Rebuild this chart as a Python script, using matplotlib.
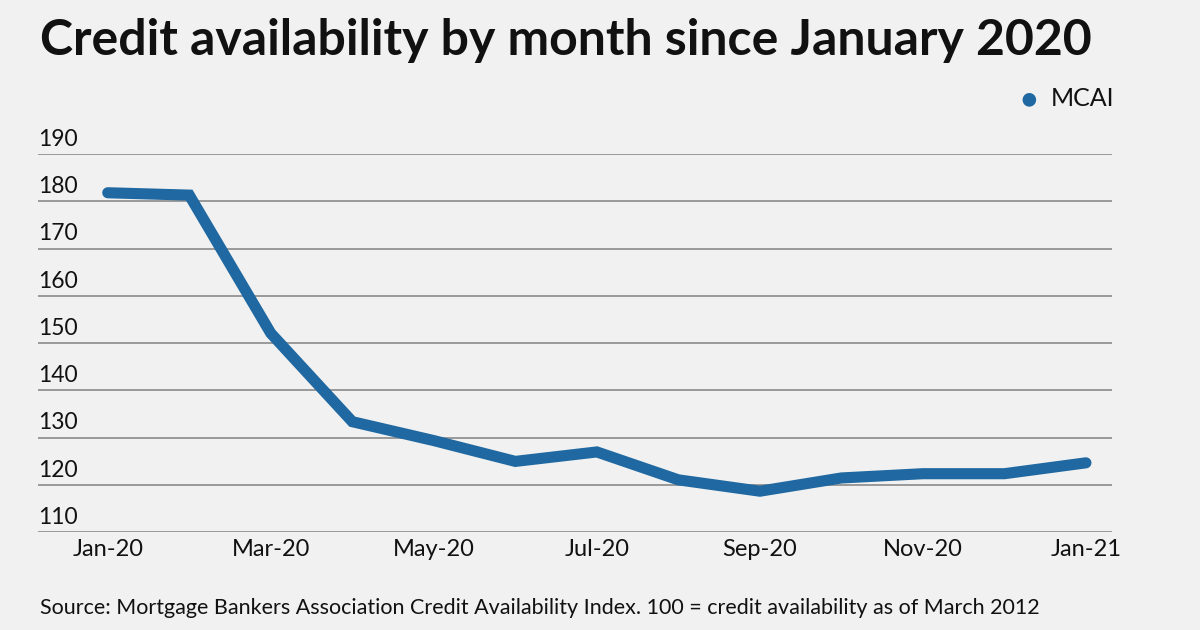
import matplotlib.pyplot as plt
import matplotlib.transforms as mtransforms

months = ['Jan-20', 'Feb-20', 'Mar-20', 'Apr-20', 'May-20', 'Jun-20', 'Jul-20',
          'Aug-20', 'Sep-20', 'Oct-20', 'Nov-20', 'Dec-20', 'Jan-21']
mcai = [181.8, 181.3, 152.1, 133.4, 129.4, 125.0, 127.0,
        121.1, 118.7, 121.5, 122.4, 122.4, 124.7]
yticks = [110, 120, 130, 140, 150, 160, 170, 180, 190]

bg = '#f0f1f0'
blue = '#1f68a1'
plt.rcParams['font.family'] = ['Lato', 'DejaVu Sans']

fig = plt.figure(figsize=(12, 6.3), dpi=100, facecolor=bg)
ax = fig.add_axes([0.0317, 0.155, 0.895, 0.6006], facecolor=bg)

x = list(range(len(months)))
ax.plot(x, mcai, color=blue, lw=8, solid_capstyle='round', solid_joinstyle='miter', zorder=3)

ax.set_xlim(-0.855, 12.32)
ax.set_ylim(110, 190)
ax.set_yticks(yticks)
ax.set_yticklabels([])
ax.tick_params(axis='y', length=0)
ax.grid(axis='y', color='#8a8a8a', lw=1.2)
ax.set_axisbelow(True)
for s in ax.spines.values():
    s.set_visible(False)

ax.set_xticks(x[::2])
ax.set_xticklabels(months[::2], fontsize=17, color='#111111')
ax.tick_params(axis='x', length=0, pad=5)

trans = mtransforms.blended_transform_factory(ax.transAxes, ax.transData)
for v in yticks:
    ax.text(0.0, v + 0.9, str(v), transform=trans, ha='left', va='bottom',
            fontsize=16.5, color='#111111', clip_on=False)

fig.text(0.033, 0.913, 'Credit availability by month since January 2020',
         fontsize=36, fontweight='bold', color='#111111', ha='left', va='baseline')

fig.text(0.857, 0.843, '\u25cf', fontsize=20, color=blue, ha='center', va='center')
fig.text(0.876, 0.843, 'MCAI', fontsize=18, color='#111111', ha='left', va='center')

fig.text(0.033, 0.035, 'Source: Mortgage Bankers Association Credit Availability Index. '
         '100 = credit availability as of March 2012',
         fontsize=15.5, color='#111111', ha='left', va='center')

fig.savefig('out.png', dpi=100, facecolor=bg)
